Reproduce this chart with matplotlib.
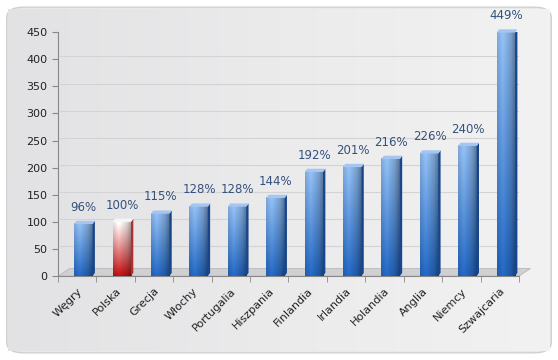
import numpy as np
import matplotlib.pyplot as plt
from matplotlib.patches import FancyBboxPatch, Polygon
from matplotlib.colors import LinearSegmentedColormap, to_rgb

countries = ['Węgry', 'Polska', 'Grecja', 'Włochy', 'Portugalia', 'Hiszpania',
             'Finlandia', 'Irlandia', 'Holandia', 'Anglia', 'Niemcy', 'Szwajcaria']
values = [96, 100, 115, 128, 128, 144, 192, 201, 216, 226, 240, 449]
labels = ['96%', '100%', '115%', '128%', '128%', '144%', '192%', '201%',
          '216%', '226%', '240%', '449%']
highlight = 'Polska'


def bar_image(top, bottom, n=80):
    # vertical blend top->bottom, then horizontal shading (light left, dark right)
    t = np.linspace(0, 1, n).reshape(-1, 1, 1)          # 0 bottom, 1 top
    col = np.array(to_rgb(bottom)) * (1 - t) + np.array(to_rgb(top)) * t
    xs = np.linspace(0, 1, 40)
    shade = np.interp(xs, [0, 0.3, 0.75, 1.0], [0.9, 1.05, 0.85, 0.62])
    img = col * shade.reshape(1, -1, 1)
    return np.clip(img, 0, 1)


fig = plt.figure(figsize=(5.58, 3.6), dpi=100)
fig.patch.set_facecolor('white')

# rounded panel behind the chart
panel = FancyBboxPatch((0.012, 0.02), 0.976, 0.96, boxstyle='round,pad=0,rounding_size=0.03',
                       transform=fig.transFigure, facecolor='#e9e9ea', edgecolor='#d0d0d0',
                       linewidth=1.0, zorder=-10)
fig.patches.append(panel)
grad_ax = fig.add_axes([0.015, 0.025, 0.97, 0.95], zorder=-5)
grad = np.linspace(0, 1, 256).reshape(1, -1)
grad_ax.imshow(grad, aspect='auto', cmap=LinearSegmentedColormap.from_list(
    'bg', ['#e2e2e4', '#ebebec', '#f2f2f3']), extent=[0, 1, 0, 1])
grad_ax.axis('off')

ax = fig.add_axes([0.104, 0.233, 0.826, 0.678])
ax.patch.set_alpha(0)
ax.set_xlim(-0.5, len(countries) - 0.5)
ax.set_ylim(0, 450)

# grid on the back wall
for v in range(50, 451, 50):
    ax.plot([-0.45, len(countries) - 0.2], [v + 5, v + 5], color='#d3d3d6', lw=0.8, zorder=0)

# floor
floor = Polygon([(-0.5, 0), (len(countries) - 0.5, 0), (len(countries) - 0.2, 14), (-0.2, 14)],
                closed=True, facecolor='#d0d0d2', edgecolor='#b8b8ba', lw=0.6, zorder=1, clip_on=False)
ax.add_patch(floor)

for i, (name, v) in enumerate(zip(countries, values)):
    x0, x1 = i - 0.08, i + 0.40
    if name == highlight:
        img = bar_image('#ffffff', '#c00e0e')
        side = '#b03030'
        cap = '#f6f6f6'
    else:
        img = bar_image('#8fbbee', '#2266c0')
        side = '#17468c'
        cap = '#a4c6f0'
    ax.imshow(img, origin='lower', aspect='auto', extent=[x0, x1, 0, v], zorder=3,
              interpolation='bilinear')
    ax.add_patch(Polygon([(x1, 0), (x1 + 0.06, 6), (x1 + 0.06, v + 6), (x1, v)],
                         closed=True, facecolor=side, edgecolor='none', zorder=3))
    ax.add_patch(Polygon([(x0, v), (x1, v), (x1 + 0.06, v + 6), (x0 + 0.06, v + 6)],
                         closed=True, facecolor=cap, edgecolor='none', zorder=4, clip_on=False))
    ax.text(i + 0.17, v + 19, labels[i], ha='center', va='bottom',
            fontsize=8.5, color='#34517c', clip_on=False)

ax.set_xticks(range(len(countries)))
ax.set_xticklabels(countries, rotation=45, ha='right', rotation_mode='anchor',
                   fontsize=8, color='#222222')
ax.tick_params(axis='x', length=0, pad=7)
ax.set_xticks(np.arange(-0.5, len(countries)), minor=True)
ax.tick_params(axis='x', which='minor', length=4, color='#888888', direction='out')
ax.set_yticks(range(0, 451, 50))
ax.tick_params(axis='y', labelsize=8, labelcolor='#222222', length=4, color='#888888')

for s in ['top', 'right']:
    ax.spines[s].set_visible(False)
ax.spines['left'].set_color('#888888')
ax.spines['bottom'].set_color('#888888')

fig.savefig('out.png', dpi=100)
